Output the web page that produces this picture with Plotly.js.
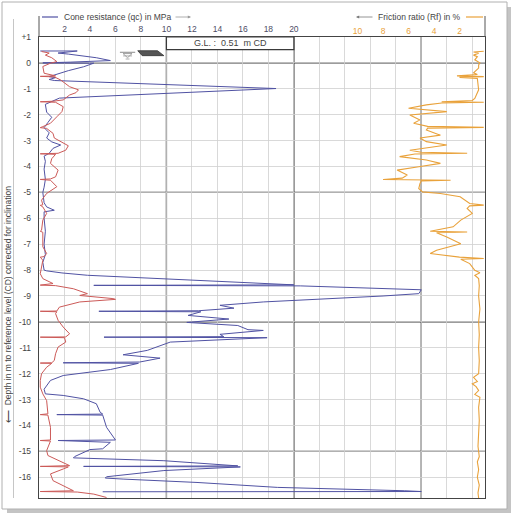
<!DOCTYPE html>
<html>
<head>
<meta charset="utf-8">
<script src="https://cdn.plot.ly/plotly-3.0.1.min.js"></script>
<style>html,body{margin:0;padding:0;background:#fff;}#chart{width:512px;height:518px;}</style>
</head>
<body>
<div id="chart"></div>
<script>
// ---- Cone resistance qc (MPa) vs depth (m CD) ----
const qcDepth = [0.46,0.46,0.38,0.34,0.20,0.09,0.03,0.00,-0.01,-0.15,-0.30,-0.45,-0.53,-0.57,-0.64,-0.68,-0.99,-1.36,-1.50,-1.60,-1.90,-2.10,-2.30,-2.50,-2.70,-2.90,-3.05,-3.17,-3.30,-3.49,-3.60,-3.80,-4.10,-4.50,-4.80,-5.00,-5.40,-5.56,-5.69,-5.75,-6.00,-6.50,-7.00,-7.40,-7.70,-8.00,-8.03,-8.11,-8.20,-8.57,-8.59,-8.61,-8.76,-8.91,-9.00,-9.23,-9.36,-9.47,-9.57,-9.59,-9.61,-9.75,-9.89,-10.02,-10.14,-10.30,-10.33,-10.48,-10.57,-10.59,-10.61,-10.78,-11.10,-11.27,-11.40,-11.55,-11.58,-11.60,-11.84,-12.07,-12.26,-12.60,-12.78,-12.84,-12.97,-13.16,-13.49,-13.56,-13.58,-13.60,-14.07,-14.52,-14.56,-14.58,-14.65,-14.90,-14.93,-15.20,-15.25,-15.36,-15.56,-15.58,-15.60,-15.74,-15.98,-16.03,-16.07,-16.20,-16.39,-16.52,-16.55,-16.56];
const qcVal = [0.1,3.0,1.5,2.3,4.5,5.6,2.5,0.3,4.3,3.5,2.3,1.2,0.8,1.3,0.8,1.2,18.6,1.6,0.9,0.5,0.6,1.0,0.7,0.4,0.8,0.6,1.0,1.7,1.1,0.8,0.4,0.5,0.4,0.5,0.4,0.3,0.4,0.6,1.2,0.4,0.4,0.5,0.4,0.5,0.3,0.4,0.6,1.8,3.8,20.0,4.3,20.5,30.0,29.8,27.0,17.6,14.2,15.3,12.5,4.7,12.7,11.7,14.9,11.6,15.6,16.4,17.6,14.2,14.5,5.1,17.9,10.3,8.5,6.6,9.5,7.9,1.9,7.8,5.6,1.9,0.9,0.4,0.5,1.9,3.5,4.5,4.8,5.0,1.4,5.0,5.3,6.0,6.0,1.5,5.6,5.0,4.0,2.8,2.7,9.8,15.6,3.5,15.8,9.8,5.3,5.2,6.6,12.4,18.7,28.7,30.0,5.0];

// ---- Red trace (drawn on the qc scale) ----
const redDepth = [0.44,0.38,0.30,0.20,0.05,-0.01,-0.14,-0.40,-0.50,-0.52,-0.54,-0.66,-0.92,-1.04,-1.15,-1.24,-1.43,-1.48,-1.50,-1.52,-1.69,-1.88,-2.08,-2.33,-2.46,-2.50,-2.53,-2.72,-2.90,-3.11,-3.20,-3.37,-3.49,-3.51,-3.53,-3.70,-3.88,-4.14,-4.40,-4.48,-4.50,-4.53,-4.78,-5.04,-5.30,-5.48,-5.50,-5.56,-5.81,-6.07,-6.46,-6.50,-6.54,-7.10,-7.36,-7.48,-7.50,-7.62,-7.88,-8.14,-8.33,-8.52,-8.58,-8.60,-8.72,-8.91,-8.98,-9.04,-9.10,-9.13,-9.23,-9.43,-9.58,-9.59,-9.61,-9.68,-9.94,-10.20,-10.46,-10.58,-10.59,-10.61,-10.78,-10.97,-11.23,-11.49,-11.58,-11.59,-11.60,-11.75,-12.00,-12.26,-12.52,-12.78,-13.04,-13.55,-13.58,-13.60,-14.07,-14.56,-14.58,-14.60,-14.97,-15.16,-15.36,-15.55,-15.58,-15.60,-15.68,-15.87,-16.13,-16.32,-16.52,-16.55,-16.57,-16.65,-16.78];
const redVal = [0.2,0.8,0.5,1.0,1.4,0.9,0.3,0.4,1.3,0.1,1.2,1.7,2.4,3.1,2.9,2.4,1.9,1.1,0.1,1.3,1.9,1.8,1.4,0.9,0.3,0.1,0.6,1.1,1.2,1.9,2.3,2.1,1.5,0.1,1.3,1.0,0.9,1.5,1.3,0.9,0.1,0.9,1.4,0.6,0.2,0.3,0.1,0.3,0.6,0.3,0.2,0.1,0.3,0.3,0.6,0.4,0.1,0.3,0.2,0.1,0.3,1.1,0.1,1.3,2.7,3.8,3.2,4.8,5.8,6.0,3.2,1.6,1.4,0.1,1.4,1.3,1.5,1.9,2.4,2.1,0.1,2.0,2.1,1.5,1.3,1.2,1.0,0.1,1.0,0.6,0.2,0.1,0.1,0.3,0.6,0.7,0.1,0.7,0.9,0.9,0.1,0.9,0.6,0.7,1.6,2.4,0.1,2.3,1.9,0.9,1.1,1.9,2.7,0.1,3.0,4.3,5.3];

// ---- Friction ratio Rf (%) vs depth ----
const rfDepth = [0.45,0.42,0.37,0.30,0.24,0.12,0.00,-0.08,-0.20,-0.38,-0.45,-0.50,-0.53,-0.56,-0.60,-1.04,-1.37,-1.45,-1.50,-1.52,-1.55,-1.62,-1.75,-1.88,-2.01,-2.20,-2.33,-2.45,-2.49,-2.52,-2.59,-2.79,-2.90,-3.04,-3.17,-3.37,-3.45,-3.49,-3.52,-3.62,-3.75,-3.88,-4.01,-4.14,-4.33,-4.45,-4.50,-4.53,-4.56,-4.65,-4.85,-4.98,-5.04,-5.17,-5.43,-5.49,-5.52,-5.62,-5.81,-6.07,-6.33,-6.50,-6.53,-6.56,-6.72,-6.98,-7.23,-7.36,-7.50,-7.55,-7.58,-7.75,-8.01,-8.10,-8.20,-8.33,-8.60,-9.00,-9.50,-10.00,-10.50,-11.00,-11.50,-12.00,-12.14,-12.30,-12.39,-12.50,-12.65,-12.80,-12.91,-13.30,-13.80,-14.30,-14.80,-15.20,-15.40,-15.70,-16.00,-16.30,-16.60,-16.80];
const rfVal = [0.1,0.9,0.5,0.9,0.6,0.8,0.4,0.5,0.5,0.9,0.6,2.2,0.1,2.0,0.6,0.5,0.8,1.0,3.4,0.1,3.4,4.6,6.0,3.0,5.9,5.1,5.6,4.5,0.1,4.5,4.6,3.5,5.1,4.6,3.0,5.9,5.0,1.4,5.5,6.7,4.6,3.5,5.2,6.9,6.1,6.5,8.0,2.7,5.0,5.1,5.2,4.9,3.5,1.95,1.2,0.1,1.2,1.4,1.0,1.9,2.5,4.3,1.4,3.8,3.0,1.9,3.8,4.3,2.0,0.1,1.9,1.2,0.8,0.4,0.8,0.5,0.45,0.5,0.4,0.5,0.45,0.5,0.45,0.5,0.9,0.6,1.0,0.7,0.5,0.8,0.4,0.5,0.45,0.5,0.55,0.45,0.6,0.5,0.6,0.45,0.55,0.5];

// ---- Axis ticks ----
const qcGridVals = [0,2,4,6,8,10,12,14,16,18,20,22,24,26,28,30,32,34];
const qcTickText = ['','2','4','6','8','10','12','14','16','18','20','','','','','','',''];
const rfTickVals = [2,4,6,8,10];
const depthTickVals = [1,0,-1,-2,-3,-4,-5,-6,-7,-8,-9,-10,-11,-12,-13,-14,-15,-16];
const depthTickText = ['+1','0','-1','-2','-3','-4','-5','-6','-7','-8','-9','-10','-11','-12','-13','-14','-15','-16'];
const qcThick = [10,20,30];
const depthThick = [0,-5,-10,-15];
const groundLevel = 0.51;

// pixel -> paper helpers
const L = 39, R = 485, T = 37, B = 498;
const px = x => (x - L) / (R - L);
const py = y => (B - y) / (B - T);

const FONT = 'Liberation Sans, Arial, sans-serif';
const BLUE = '#5052a3', RED = '#cc5a58', ORANGE = '#e9a23b';
const THICK = '#3a3a3a', GRID = '#cfcfcf';

const traces = [
  {x: qcVal, y: qcDepth, type: 'scatter', mode: 'lines', xaxis: 'x', yaxis: 'y',
   line: {color: BLUE, width: 1}, hoverinfo: 'skip'},
  {x: redVal, y: redDepth, type: 'scatter', mode: 'lines', xaxis: 'x', yaxis: 'y',
   line: {color: RED, width: 1}, hoverinfo: 'skip'},
  {x: rfVal, y: rfDepth, type: 'scatter', mode: 'lines', xaxis: 'x2', yaxis: 'y',
   line: {color: ORANGE, width: 1.1}, hoverinfo: 'skip'}
];

const shapes = [];
// card shadow & card
shapes.push({type: 'rect', xref: 'paper', yref: 'paper', x0: px(7), x1: px(511), y0: py(513), y1: py(7),
  fillcolor: '#c4c4c4', line: {width: 0}, layer: 'below'});
shapes.push({type: 'rect', xref: 'paper', yref: 'paper', x0: px(2), x1: px(507), y0: py(509), y1: py(2),
  fillcolor: '#ffffff', line: {color: '#b0b0b0', width: 1}, layer: 'below'});
// thin line left of tick labels
shapes.push({type: 'line', xref: 'paper', yref: 'paper', x0: px(13.5), x1: px(13.5), y0: py(498), y1: py(19),
  line: {color: '#c6c6c6', width: 1}, layer: 'below'});
// axis borders extended upward
[L, R].forEach(xx => shapes.push({type: 'line', xref: 'paper', yref: 'paper', x0: px(xx), x1: px(xx),
  y0: py(37), y1: py(16), line: {color: '#555', width: 1}}));
// G.L. box
shapes.push({type: 'rect', xref: 'x', yref: 'y', x0: 10, x1: 20, y0: groundLevel, y1: 1,
  fillcolor: '#ffffff', line: {color: THICK, width: 1.2}, layer: 'between'});
// thick grid lines
qcThick.forEach(v => shapes.push({type: 'line', xref: 'x', yref: 'paper', x0: v, x1: v, y0: 0, y1: 1,
  line: {color: THICK, width: 1.3}, layer: 'between'}));
depthThick.forEach(v => shapes.push({type: 'line', xref: 'paper', yref: 'y', x0: 0, x1: 1, y0: v, y1: v,
  line: {color: THICK, width: 1.3}, layer: 'between'}));
// water table symbol
shapes.push({type: 'line', xref: 'x', yref: 'y', x0: 6.35, x1: 7.55, y0: 0.41, y1: 0.41, line: {color: '#8a8a8a', width: 1}});
shapes.push({type: 'path', xref: 'x', yref: 'y', path: 'M 6.6 0.36 L 7.3 0.36 L 6.95 0.2 Z', line: {color: '#8a8a8a', width: 0.8}});
shapes.push({type: 'line', xref: 'x', yref: 'y', x0: 6.6, x1: 7.3, y0: 0.27, y1: 0.27, line: {color: '#9a9a9a', width: 0.8}});
shapes.push({type: 'line', xref: 'x', yref: 'y', x0: 6.8, x1: 7.1, y0: 0.15, y1: 0.15, line: {color: '#9a9a9a', width: 0.8}});
// ground hatch symbol
shapes.push({type: 'path', xref: 'x', yref: 'y', path: 'M 7.75 0.47 L 9.3 0.47 L 9.8 0.28 L 8.1 0.28 Z',
  fillcolor: '#555', line: {color: '#333', width: 0.8}});
// legend line samples
shapes.push({type: 'line', xref: 'paper', yref: 'paper', x0: px(42), x1: px(58), y0: py(17), y1: py(17), line: {color: BLUE, width: 1.2}});
shapes.push({type: 'line', xref: 'paper', yref: 'paper', x0: px(466), x1: px(483), y0: py(17), y1: py(17), line: {color: ORANGE, width: 1.2}});

const annotations = [
  {xref: 'paper', yref: 'paper', x: px(62), y: py(17), xanchor: 'left', yanchor: 'middle', showarrow: false,
   text: 'Cone resistance (qc) in MPa', font: {family: FONT, size: 8.5, color: '#444'}},
  {xref: 'paper', yref: 'paper', x: px(191), y: py(17), ax: -17, ay: 0, showarrow: true, text: '',
   arrowhead: 2, arrowsize: 0.8, arrowwidth: 0.8, arrowcolor: '#9a9a9a'},
  {xref: 'paper', yref: 'paper', x: px(463), y: py(17), xanchor: 'right', yanchor: 'middle', showarrow: false,
   text: 'Friction ratio (Rf) in %', font: {family: FONT, size: 8.5, color: '#444'}},
  {xref: 'paper', yref: 'paper', x: px(356), y: py(17), ax: 18, ay: 0, showarrow: true, text: '',
   arrowhead: 2, arrowsize: 0.8, arrowwidth: 0.8, arrowcolor: '#7a7a7a'},
  {xref: 'x', yref: 'y', x: 15, y: (1 + groundLevel) / 2, showarrow: false, xanchor: 'center', yanchor: 'middle',
   text: 'G.L. :  0.51  m CD', font: {family: FONT, size: 9, color: '#444'}},
  {xref: 'paper', yref: 'paper', x: px(8), y: py(305), showarrow: false, textangle: -90, xanchor: 'center', yanchor: 'middle',
   text: '\u27f5  Depth in m to reference level (CD) corrected for inclination', font: {family: FONT, size: 8.5, color: '#444'}}
];

const layout = {
  width: 512, height: 518,
  margin: {l: L, r: 512 - R, t: T, b: 518 - B, pad: 0},
  paper_bgcolor: '#ffffff', plot_bgcolor: 'rgba(0,0,0,0)',
  showlegend: false,
  font: {family: FONT, size: 8.5, color: '#444'},
  xaxis: {range: [0, 35], side: 'top', tickmode: 'array', tickvals: qcGridVals, ticktext: qcTickText,
    showgrid: true, gridcolor: GRID, gridwidth: 0.8, zeroline: false,
    showline: true, mirror: true, linecolor: '#444', linewidth: 1.2,
    ticks: '', tickfont: {family: FONT, size: 8.5, color: '#4d4d66'}, fixedrange: true},
  xaxis2: {range: [35, 0], overlaying: 'x', side: 'top', anchor: 'y', tickmode: 'array', tickvals: rfTickVals,
    showgrid: false, zeroline: false, showline: false,
    ticks: '', tickfont: {family: FONT, size: 8.5, color: ORANGE}, fixedrange: true},
  yaxis: {range: [-16.8, 1], tickmode: 'array', tickvals: depthTickVals, ticktext: depthTickText,
    showgrid: true, gridcolor: GRID, gridwidth: 0.8, zeroline: false,
    showline: true, mirror: true, linecolor: '#444', linewidth: 1.2,
    ticks: 'outside', ticklen: 5, tickcolor: 'rgba(0,0,0,0)',
    tickfont: {family: FONT, size: 8.5, color: '#444'}, fixedrange: true},
  shapes: shapes,
  annotations: annotations
};

Plotly.newPlot('chart', traces, layout, {displayModeBar: false, staticPlot: true});
</script>
</body>
</html>
